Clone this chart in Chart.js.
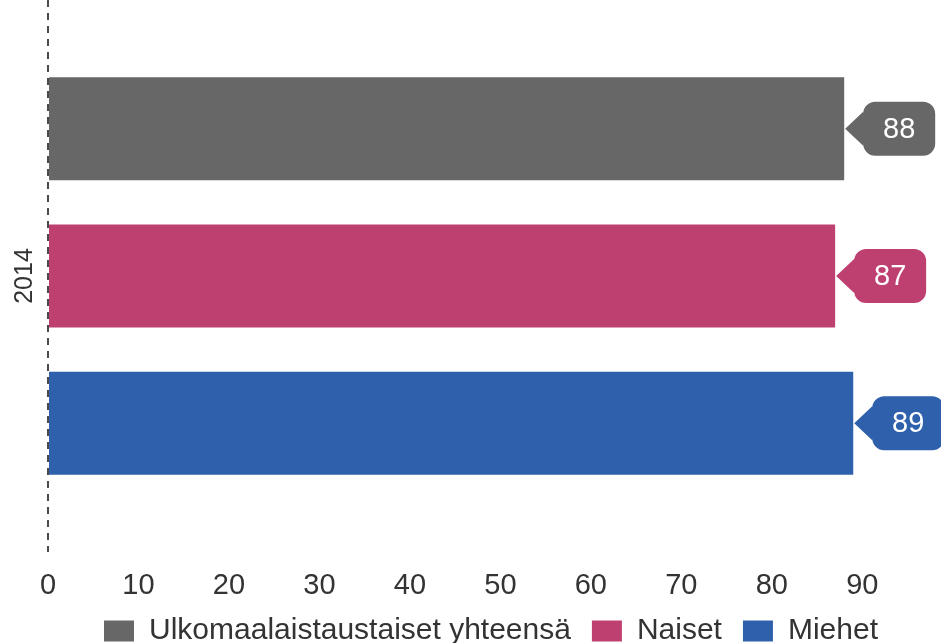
<!DOCTYPE html>
<html>
<head>
<meta charset="utf-8">
<script src="https://cdn.jsdelivr.net/npm/chart.js@4"></script>
<style>
  html, body { margin: 0; padding: 0; background: #ffffff; }
  #wrap { width: 941px; height: 643px; }
</style>
</head>
<body>
<div id="wrap"><canvas id="c" width="941" height="643"></canvas></div>
<script>
const categories = ['2014'];
const seriesNames = ['Ulkomaalaistaustaiset yhteensä', 'Naiset', 'Miehet'];
const totalValues = [88];
const womenValues = [87];
const menValues = [89];
const seriesColors = ['#676767', '#BE4070', '#2E60AB'];
const xMin = 0;
const xAxisMax = 98.7;   // the axis runs past the last labelled tick
const xLastTick = 90;
const xStep = 10;

const FONT = "'Liberation Sans', Arial, sans-serif";

const calloutPlugin = {
  id: 'callouts',
  afterDatasetsDraw(chart) {
    const ctx = chart.ctx;
    chart.data.datasets.forEach((ds, di) => {
      const meta = chart.getDatasetMeta(di);
      if (meta.hidden) return;
      meta.data.forEach((bar, i) => {
        const tipX = bar.x + 1;
        const cy = bar.y;
        const off = 18, w = 72, h = 54, r = 12, half = 17;
        const bx = tipX + off;
        const top = cy - h / 2, bot = cy + h / 2;
        ctx.save();
        ctx.beginPath();
        ctx.moveTo(tipX, cy);
        ctx.lineTo(bx, cy - half);
        ctx.lineTo(bx, top + r);
        ctx.arcTo(bx, top, bx + r, top, r);
        ctx.lineTo(bx + w - r, top);
        ctx.arcTo(bx + w, top, bx + w, top + r, r);
        ctx.lineTo(bx + w, bot - r);
        ctx.arcTo(bx + w, bot, bx + w - r, bot, r);
        ctx.lineTo(bx + r, bot);
        ctx.arcTo(bx, bot, bx, bot - r, r);
        ctx.lineTo(bx, cy + half);
        ctx.closePath();
        ctx.fillStyle = ds.backgroundColor;
        ctx.fill();
        ctx.fillStyle = '#ffffff';
        ctx.font = '29px ' + FONT;
        ctx.textAlign = 'center';
        ctx.textBaseline = 'middle';
        ctx.fillText(String(ds.data[i]), bx + w / 2, cy + 1);
        ctx.restore();
      });
    });
  }
};

new Chart(document.getElementById('c'), {
  type: 'bar',
  data: {
    labels: categories,
    datasets: [
      { label: seriesNames[0], data: totalValues, backgroundColor: seriesColors[0], borderWidth: 0 },
      { label: seriesNames[1], data: womenValues, backgroundColor: seriesColors[1], borderWidth: 0 },
      { label: seriesNames[2], data: menValues, backgroundColor: seriesColors[2], borderWidth: 0 }
    ]
  },
  options: {
    indexAxis: 'y',
    responsive: false,
    animation: false,
    categoryPercentage: 0.8,
    barPercentage: 0.7,
    layout: { padding: { top: 0, right: -33, left: 8, bottom: -13 } },
    scales: {
      x: {
        min: xMin, max: xAxisMax,
        grid: {
          display: true,
          drawTicks: false,
          lineWidth: 2,
          color: (c) => (c.tick && c.tick.value === 0) ? '#4a4a4a' : 'rgba(0,0,0,0)'
        },
        border: { display: false, dash: [7, 6] },
        afterBuildTicks: (s) => { s.ticks = s.ticks.filter(t => t.value <= xLastTick); },
        afterFit: (s) => { s.height = 43; s.paddingLeft = 0; s.paddingRight = 0; },
        ticks: { stepSize: xStep, color: '#333', padding: 22, autoSkip: false, maxRotation: 0, font: { family: FONT, size: 29, lineHeight: 0.8 } }
      },
      y: {
        grid: { display: false },
        border: { display: false },
        afterFit: (s) => { s.width = 40; s.paddingTop = 0; s.paddingBottom = 0; },
        ticks: { color: '#333', minRotation: 90, maxRotation: 90, crossAlign: 'center', padding: -13, font: { family: FONT, size: 25, lineHeight: 1 } }
      }
    },
    plugins: {
      legend: {
        position: 'bottom',
        labels: {
          boxWidth: 30, boxHeight: 21, padding: 21,
          color: '#333',
          font: { family: FONT, size: 30 }
        }
      },
      tooltip: { enabled: false }
    }
  },
  plugins: [calloutPlugin]
});
</script>
</body>
</html>
